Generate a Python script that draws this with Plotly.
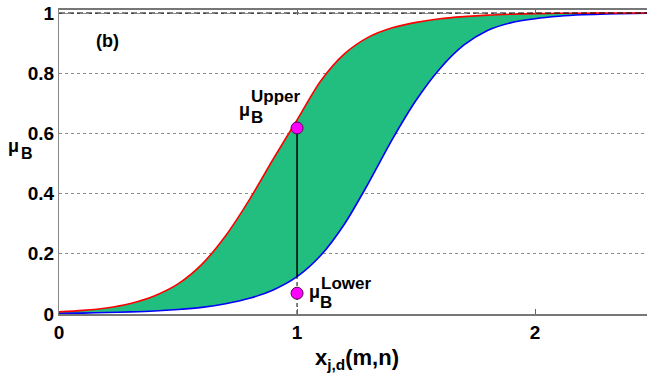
import plotly.graph_objects as go

# Membership bounds sampled along the input axis
x_vals = [0.0, 0.1, 0.2, 0.3, 0.4, 0.5, 0.6, 0.7, 0.8, 0.9, 1.0, 1.1, 1.2,
          1.3, 1.4, 1.5, 1.6, 1.7, 1.8, 1.9, 2.0, 2.1, 2.2, 2.3, 2.47]
mu_upper = [0.007, 0.012, 0.020, 0.035, 0.060, 0.100, 0.165, 0.260, 0.380,
            0.515, 0.645, 0.775, 0.865, 0.920, 0.951, 0.969, 0.981, 0.988,
            0.993, 0.996, 0.998, 0.999, 0.999, 1.000, 1.000]
mu_lower = [0.002, 0.003, 0.005, 0.007, 0.010, 0.015, 0.022, 0.034, 0.052,
            0.080, 0.124, 0.195, 0.300, 0.435, 0.580, 0.710, 0.815, 0.893,
            0.942, 0.968, 0.981, 0.989, 0.994, 0.997, 0.999]

# Evaluated point and its two membership grades
x_eval = 1.0
mu_eval_upper = 0.618
mu_eval_lower = 0.069
mu_lower_at_eval = mu_lower[x_vals.index(x_eval)]

x_ticks = [0, 1, 2]
y_ticks = [0, 0.2, 0.4, 0.6, 0.8, 1]
y_tick_text = ["0", "0.2", "0.4", "0.6", "0.8", "1"]

FONT = "Liberation Sans, Arial, sans-serif"
SPLINE = dict(shape="spline", smoothing=0.8)

fig = go.Figure()

fig.add_trace(go.Scatter(
    x=x_vals, y=mu_lower, mode="lines",
    line=dict(color="#0000FF", width=1.6, **SPLINE),
    showlegend=False, hoverinfo="skip"))
fig.add_trace(go.Scatter(
    x=x_vals, y=mu_upper, mode="lines", fill="tonexty",
    fillcolor="#22BE80",
    line=dict(color="#FF0000", width=1.6, **SPLINE),
    showlegend=False, hoverinfo="skip"))

# Reference line at full membership
fig.add_trace(go.Scatter(
    x=[0, 2.47], y=[1, 1], mode="lines",
    line=dict(color="black", width=1, dash="6px,3px"),
    showlegend=False, hoverinfo="skip"))

# Dashed drop line below the lower bound, solid segment between bounds
fig.add_trace(go.Scatter(
    x=[x_eval, x_eval], y=[0, mu_lower_at_eval], mode="lines",
    line=dict(color="black", width=1, dash="4px,3px"),
    showlegend=False, hoverinfo="skip"))
fig.add_trace(go.Scatter(
    x=[x_eval, x_eval], y=[mu_lower_at_eval, mu_eval_upper], mode="lines",
    line=dict(color="black", width=1.5),
    showlegend=False, hoverinfo="skip"))

fig.add_trace(go.Scatter(
    x=[x_eval, x_eval], y=[mu_eval_upper, mu_eval_lower], mode="markers",
    marker=dict(color="#FF00FF", size=12, line=dict(color="#5a0050", width=1)),
    showlegend=False, hoverinfo="skip"))


def px_x(p):
    return (p - 59.3) / 238.0


def px_y(p):
    return (314.0 - p) / 301.0


def paper_x(p):
    return (p - 59.0) / 588.0


def paper_y(p):
    return (314.0 - p) / 304.0


bold = dict(family=FONT, color="black", weight="bold")


def data_label(xp, yp, text, size):
    return dict(x=px_x(xp), y=px_y(yp), xref="x", yref="y", text=text,
                xanchor="left", yanchor="middle", showarrow=False,
                font=dict(size=size, **bold))


def paper_label(xp, yp, text, size, xanchor="left"):
    return dict(x=paper_x(xp), y=paper_y(yp), xref="paper", yref="paper",
                text=text, xanchor=xanchor, yanchor="middle",
                showarrow=False, font=dict(size=size, **bold))


annotations = [
    dict(x=px_x(108), y=px_y(41), xref="x", yref="y", text="(b)",
         showarrow=False, font=dict(size=18, **bold)),
    # upper grade label: mu with B below-right and "Upper" above-right
    data_label(237, 110, "μ", 18),
    data_label(249, 117, "B", 17),
    data_label(249, 96, "Upper", 17),
    # lower grade label
    data_label(307, 292, "μ", 18),
    data_label(318, 302, "B", 17),
    data_label(319, 283, "Lower", 17),
    # axis titles
    paper_label(6, 146, "μ", 18),
    paper_label(19, 153, "B", 16),
    paper_label(357, 359, "x<sub>j,d</sub>(m,n)", 22, xanchor="center"),
]

fig.update_layout(
    width=647, height=381,
    margin=dict(l=59, r=0, t=10, b=67),
    paper_bgcolor="white", plot_bgcolor="white",
    annotations=annotations,
    xaxis=dict(
        range=[0, 2.47], tickvals=x_ticks, ticks="inside", ticklen=5,
        tickcolor="#666", showline=True, linecolor="#777", linewidth=1.5,
        mirror="ticks", showgrid=False, zeroline=False,
        tickfont=dict(size=19, **bold),
    ),
    yaxis=dict(
        range=[0, 1.01], tickvals=y_ticks, ticktext=y_tick_text,
        showline=True, linecolor="#888", linewidth=1, mirror=False,
        showgrid=True, gridcolor="#8c8c8c", gridwidth=1, griddash="dot",
        zeroline=False, ticks="",
        tickfont=dict(size=19, **bold),
    ),
)

fig.write_html("out.html")
